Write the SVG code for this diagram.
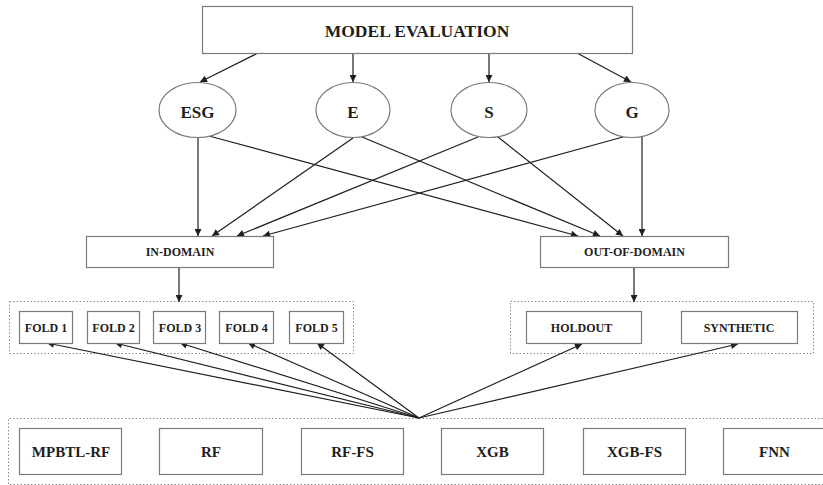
<svg xmlns="http://www.w3.org/2000/svg" width="823" height="485" viewBox="0 0 823 485">
<style>
.box{fill:#fff;stroke:#7a7a7a;stroke-width:1.2}
.cont{fill:none;stroke:#8a8a8a;stroke-width:1;stroke-dasharray:1.5 2}
.t{font-family:"Liberation Serif","DejaVu Serif",serif;font-weight:bold;fill:#1e1e1e;text-anchor:middle;dominant-baseline:central}
.c{fill:none;stroke:#1e1e1e;stroke-width:1.2;marker-end:url(#ah)}
</style>
<defs>
<marker id="ah" viewBox="0 0 10 10" refX="10" refY="5" markerWidth="9" markerHeight="7" markerUnits="userSpaceOnUse" orient="auto">
<path d="M0,0 L10,5 L0,10 z" fill="#1e1e1e"/>
</marker>
</defs>
<rect width="823" height="485" fill="#fff"/>

<g id="containers">
<rect class="cont" x="9.5" y="301.5" width="344" height="52"/>
<rect class="cont" x="510.5" y="301.5" width="303" height="52"/>
<path class="cont" d="M830,418.5 H8.5 V484.5 H830"/>
</g>

<g id="connectors">
<path class="c" d="M258,53 L200,82"/>
<path class="c" d="M353,53 L353,82"/>
<path class="c" d="M489,53 L489,82"/>
<path class="c" d="M577,53 L631,82"/>
<path class="c" d="M198,137 L198,236"/>
<path class="c" d="M353,138 L212,236"/>
<path class="c" d="M478,137 L237,236"/>
<path class="c" d="M623,137 L263,236"/>
<path class="c" d="M209,136 L578,236"/>
<path class="c" d="M362,137 L600,236"/>
<path class="c" d="M498,137 L623,236"/>
<path class="c" d="M642,137 L642,236"/>
<path class="c" d="M179,267 L179,302"/>
<path class="c" d="M634,267 L634,302"/>
<path class="c" d="M419,418 L47,343"/>
<path class="c" d="M419,418 L115,343"/>
<path class="c" d="M419,418 L180,343"/>
<path class="c" d="M419,418 L248,343"/>
<path class="c" d="M419,418 L317,343"/>
<path class="c" d="M419,418 L582,344"/>
<path class="c" d="M419,418 L738,344"/>
</g>

<g id="model-evaluation"><rect class="box" x="202.5" y="6.5" width="430" height="47"/><text class="t" x="417" y="31" font-size="17.5">MODEL EVALUATION</text></g>

<g id="esg"><ellipse class="box" cx="197.5" cy="110" rx="38.5" ry="27.5"/><text class="t" x="197.5" y="112" font-size="17">ESG</text></g>
<g id="e"><ellipse class="box" cx="353" cy="110" rx="37" ry="27.5"/><text class="t" x="353" y="112" font-size="17">E</text></g>
<g id="s"><ellipse class="box" cx="489" cy="110" rx="38" ry="27.5"/><text class="t" x="489" y="112" font-size="17">S</text></g>
<g id="g"><ellipse class="box" cx="632" cy="110" rx="37" ry="27.5"/><text class="t" x="632" y="112" font-size="17">G</text></g>

<g id="in-domain"><rect class="box" x="86.5" y="236.5" width="187" height="31"/><text class="t" x="180" y="252" font-size="12">IN-DOMAIN</text></g>
<g id="out-of-domain"><rect class="box" x="540.5" y="236.5" width="188" height="31"/><text class="t" x="634.5" y="252" font-size="12">OUT-OF-DOMAIN</text></g>

<g id="fold1"><rect class="box" x="19.5" y="311.5" width="53" height="32"/><text class="t" x="46" y="328" font-size="12">FOLD 1</text></g>
<g id="fold2"><rect class="box" x="87.5" y="311.5" width="52" height="32"/><text class="t" x="113.5" y="328" font-size="12">FOLD 2</text></g>
<g id="fold3"><rect class="box" x="153.5" y="311.5" width="52" height="32"/><text class="t" x="180" y="328" font-size="12">FOLD 3</text></g>
<g id="fold4"><rect class="box" x="219.5" y="311.5" width="54" height="32"/><text class="t" x="246.5" y="328" font-size="12">FOLD 4</text></g>
<g id="fold5"><rect class="box" x="289.5" y="311.5" width="54" height="32"/><text class="t" x="316.5" y="328" font-size="12">FOLD 5</text></g>

<g id="holdout"><rect class="box" x="526.5" y="311.5" width="115" height="32"/><text class="t" x="581.5" y="328" font-size="12">HOLDOUT</text></g>
<g id="synthetic"><rect class="box" x="681.5" y="311.5" width="116" height="32"/><text class="t" x="739" y="328" font-size="12">SYNTHETIC</text></g>

<g id="mpbtl-rf"><rect class="box" x="19.5" y="428.5" width="102" height="46"/><text class="t" x="71" y="452" font-size="15">MPBTL-RF</text></g>
<g id="rf"><rect class="box" x="159.5" y="428.5" width="103" height="46"/><text class="t" x="211" y="452" font-size="15">RF</text></g>
<g id="rf-fs"><rect class="box" x="301.5" y="428.5" width="102" height="46"/><text class="t" x="352.5" y="452" font-size="15">RF-FS</text></g>
<g id="xgb"><rect class="box" x="441.5" y="428.5" width="102" height="46"/><text class="t" x="492.5" y="452" font-size="15">XGB</text></g>
<g id="xgb-fs"><rect class="box" x="583.5" y="428.5" width="102" height="46"/><text class="t" x="634.5" y="452" font-size="15">XGB-FS</text></g>
<g id="fnn"><rect class="box" x="723.5" y="428.5" width="102" height="46"/><text class="t" x="774.5" y="452" font-size="15">FNN</text></g>
</svg>
